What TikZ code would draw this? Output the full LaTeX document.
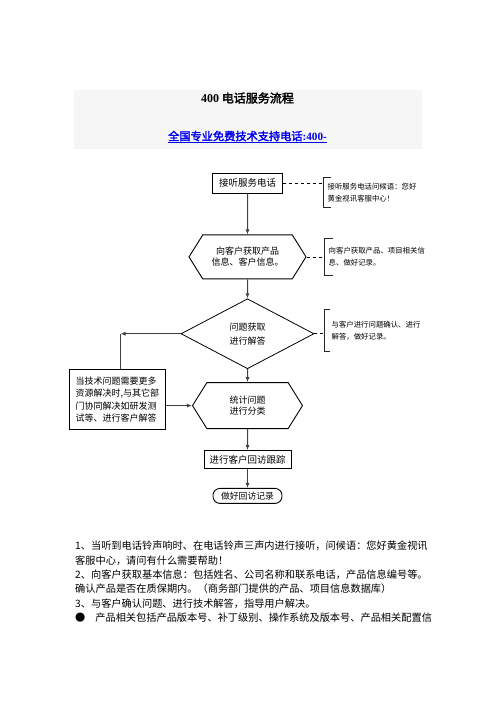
\documentclass[tikz,border=0pt]{standalone}
\usepackage{fontspec}
\setmainfont{Noto Sans CJK SC}[AutoFakeBold=2.5]
\newfontfamily\lat{Liberation Serif}
\usepackage{tikz}
\usetikzlibrary{shapes.geometric, shapes.symbols, arrows.meta, positioning, calc}

\definecolor{bandgray}{RGB}{246,246,246}
\definecolor{linkblue}{RGB}{0,0,238}

\begin{document}
\begin{tikzpicture}[
      x=1pt, y=1pt,
      >=Latex,
      node distance=20pt,
      headband/.style={
        fill=bandgray,
        minimum width=348pt,
        minimum height=59pt,
        inner sep=0pt
      },
      procbox/.style={
        draw=black,
        line width=0.9pt,
        minimum width=70pt,
        minimum height=20pt,
        inner sep=1pt,
        font=\fontsize{9.5pt}{11pt}\selectfont
      },
      hexbox/.style={
        draw=black,
        line width=0.9pt,
        signal,
        signal to=east and west,
        signal pointer angle=116,
        minimum width=117pt,
        minimum height=44pt,
        inner sep=1pt,
        align=center,
        font=\fontsize{9pt}{11pt}\selectfont
      },
      decision/.style={
        draw=black,
        line width=0.8pt,
        diamond,
        inner sep=0pt,
        minimum width=133pt,
        minimum height=70pt,
        align=center,
        font=\fontsize{9pt}{14pt}\selectfont
      },
      techbox/.style={
        draw=black,
        line width=0.9pt,
        text width=84pt,
        inner xsep=6pt,
        minimum height=60pt,
        align=left,
        font=\fontsize{9pt}{12.3pt}\selectfont
      },
      endbox/.style={
        draw=black,
        line width=0.9pt,
        rounded corners=7pt,
        minimum width=69pt,
        minimum height=15pt,
        inner sep=1pt,
        font=\fontsize{8.8pt}{10pt}\selectfont
      },
      notetext/.style={
        text width=92pt,
        inner xsep=4pt,
        inner ysep=0pt,
        align=left,
        font=\fontsize{7.4pt}{12pt}\selectfont
      },
      notemark/.style={draw=black!85, line width=0.9pt},
      dashlink/.style={draw=black, dashed, line width=0.8pt},
      flowarrow/.style={-{Latex[length=5pt,width=4pt]}, draw=black!75, line width=1pt},
      flowline/.style={draw=black!75, line width=1pt},
      bodytext/.style={
        text width=372pt,
        inner sep=0pt,
        align=left,
        font=\fontsize{10.2pt}{14.3pt}\selectfont
      }
    ]
    \useasboundingbox (0,0) rectangle (496,-702);

    % Header
    \node[headband] (header) at (248,-119.5) {};
    \node[font=\fontsize{12pt}{14pt}\selectfont\bfseries] (title) at (247.5,-98) {{\lat 400} 电话服务流程};
    \node[text=linkblue, font=\fontsize{11.2pt}{13pt}\selectfont\bfseries] (hotline) at (247.5,-137) {\underline{全国专业免费技术支持电话{\lat :400-}}};

    % Flow nodes
    \node[procbox] (answer) at (247.5,-183) {接听服务电话};
    \node[hexbox, below=41pt of answer] (collect) {向客户获取产品\\信息、客户信息。};
    \node[decision, below=19pt of collect] (solve) {问题获取\\进行解答};
    \node[hexbox, minimum width=110pt, minimum height=46pt, below=13pt of solve] (classify) {统计问题\\进行分类};
    \node[procbox, minimum width=87pt, minimum height=18pt, below=21pt of classify] (revisit) {进行客户回访跟踪};
    \node[endbox, below=19pt of revisit] (record) {做好回访记录};
    \node[techbox, left=26pt of classify, yshift=6pt] (escalate) {当技术问题需要更多\\资源解决时,与其它部\\门协同解决如研发测\\试等、进行客户解答};

    % Side notes
    \node[notetext, minimum height=29pt, right=40.5pt of answer, yshift=-9.5pt] (greetnote) {接听服务电话问候语：您好\\黄金视讯客服中心！};
    \node[notetext, minimum height=36pt, right=18pt of collect] (collectnote) {向客户获取产品、项目相关信\\息、做好记录。};
    \node[notetext, minimum height=41pt, inner xsep=7pt, right=10pt of solve, yshift=3.5pt] (solvenote) {与客户进行问题确认、进行\\解答，做好记录。};

    \draw[notemark] ([xshift=8pt]greetnote.north west) -- (greetnote.north west) -- (greetnote.south west) -- ([xshift=8pt]greetnote.south west);
    \draw[notemark] ([xshift=8pt]collectnote.north west) -- (collectnote.north west) -- (collectnote.south west) -- ([xshift=8pt]collectnote.south west);
    \draw[notemark] ([xshift=6pt]solvenote.north west) -- (solvenote.north west) -- (solvenote.south west) -- ([xshift=6pt]solvenote.south west);

    \draw[dashlink] (answer.east) -- (answer.east -| greetnote.west);
    \draw[dashlink] (collect.east) -- (collect.east -| collectnote.west);
    \draw[dashlink] (solve.east) -- (solve.east -| solvenote.west);

    % Flow connectors
    \draw[flowarrow] (answer) -- (collect);
    \draw[flowarrow] (collect) -- (solve);
    \draw[flowarrow] (solve) -- (classify);
    \draw[flowarrow] (classify) -- (revisit);
    \draw[flowarrow] (revisit) -- (record);
    \coordinate (turn) at ($(escalate.north |- solve.west)+(3,0)$);
    \draw[flowarrow] (solve.west) -- (turn);
    \draw[flowline] (turn) -- (turn |- escalate.north);
    \draw[flowarrow] (escalate.east |- classify.west) -- (classify.west);

    % Notes below the chart
    \node[bodytext, anchor=north west] (steps) at (75,-541) {1、当听到电话铃声响时、在电话铃声三声内进行接听，问候语：您好黄金视讯\\
客服中心，请问有什么需要帮助！\\
2、向客户获取基本信息：包括姓名、公司名称和联系电话，产品信息编号等。\\
确认产品是否在质保期内。（商务部门提供的产品、项目信息数据库）\\
3、与客户确认问题、进行技术解答，指导用户解决。\\
●\hspace{10pt}产品相关包括产品版本号、补丁级别、操作系统及版本号、产品相关配置信};

  \end{tikzpicture}
\end{document}
